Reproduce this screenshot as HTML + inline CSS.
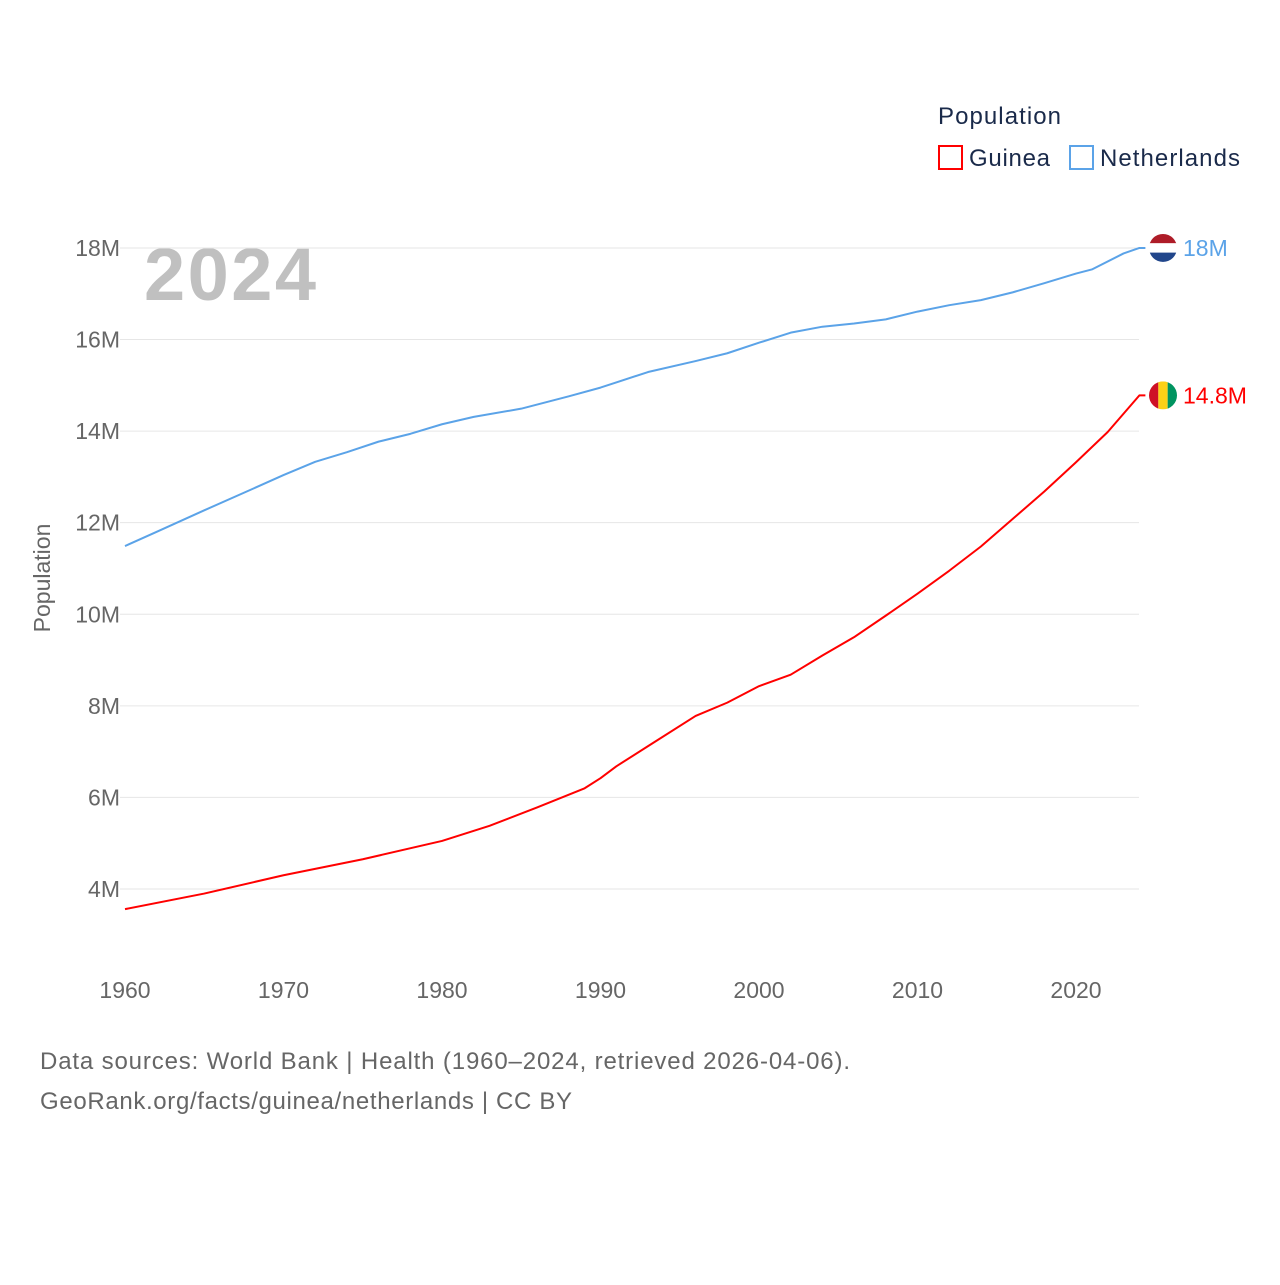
<!DOCTYPE html>
<html><head><meta charset="utf-8"><style>
body{margin:0;background:#fff;font-family:"Liberation Sans",sans-serif}
svg text{font-family:"Liberation Sans",sans-serif}
</style></head><body>
<svg id="c" width="1280" height="1280">
<text x="938" y="124" font-size="24" fill="#1a2a4a" textLength="123">Population</text>
<rect x="939" y="146" width="23" height="23" fill="none" stroke="#f00" stroke-width="2"/>
<text x="969" y="166" font-size="24" fill="#1a2a4a" textLength="81">Guinea</text>
<rect x="1070" y="146" width="23" height="23" fill="none" stroke="#5ba3e8" stroke-width="2"/>
<text x="1100" y="166" font-size="24" fill="#1a2a4a" textLength="140">Netherlands</text>
<text x="144" y="300" font-size="74" font-weight="bold" fill="#c0c0c0" textLength="172">2024</text>
<text transform="translate(50,578) rotate(-90)" text-anchor="middle" font-size="23" fill="#666">Population</text>
<g id="grid"></g><g id="lines"></g>
<text x="40" y="1069" font-size="24" fill="#666" textLength="810">Data sources: World Bank | Health (1960–2024, retrieved 2026-04-06).</text>
<text x="40" y="1109" font-size="24" fill="#666" textLength="532">GeoRank.org/facts/guinea/netherlands | CC BY</text>
</svg>
<script>
const yTicks=[4,6,8,10,12,14,16,18];
const xTicks=[1960,1970,1980,1990,2000,2010,2020];
const nlYears=[1960,1962,1965,1968,1970,1972,1974,1976,1978,1980,1982,1985,1988,1990,1993,1996,1998,2000,2002,2004,2006,2008,2010,2012,2014,2016,2018,2020,2021,2023,2024];
const nlVals=[11.49,11.8,12.27,12.73,13.04,13.33,13.54,13.77,13.94,14.15,14.31,14.49,14.76,14.95,15.29,15.53,15.70,15.93,16.15,16.28,16.35,16.44,16.61,16.75,16.86,17.03,17.23,17.44,17.53,17.88,18.0];
const gnYears=[1960,1965,1970,1975,1980,1983,1986,1989,1990,1991,1993,1996,1998,2000,2002,2004,2006,2008,2010,2012,2014,2016,2018,2020,2022,2024];
const gnVals=[3.56,3.9,4.3,4.65,5.05,5.38,5.78,6.2,6.42,6.68,7.12,7.78,8.07,8.43,8.68,9.1,9.5,9.97,10.45,10.95,11.48,12.08,12.68,13.32,13.98,14.78];
const X=y=>125+(y-1960)*15.85, Y=v=>889-(v-4)*45.79;
const ns="http://www.w3.org/2000/svg";
const g=document.getElementById('grid'), L=document.getElementById('lines');
function mk(t,a,p){const e=document.createElementNS(ns,t);for(const k in a)e.setAttribute(k,a[k]);p.appendChild(e);return e;}
yTicks.forEach(v=>{
 const l=mk('line',{x1:120,x2:1139,y1:Y(v),y2:Y(v),stroke:'#e6e6e6'},g);
 
 
 const t=mk('text',{x:120,y:Y(v)+8,'text-anchor':'end','font-size':23,fill:'#666'},g);t.textContent=v+'M';
 
 
});
xTicks.forEach(y=>{
 const t=mk('text',{x:X(y),y:998,'text-anchor':'middle','font-size':23,fill:'#666'},g);t.textContent=y;
 
 
});
function line(ys,vs,col,name){
 const d=ys.map((y,i)=>(i?'L':'M')+X(y)+','+Y(vs[i])).join('')+'L'+(X(2024)+6)+','+Y(vs[vs.length-1]);
 const p=mk('path',{d,fill:'none',stroke:col,'stroke-width':2,'stroke-linejoin':'round'},L);
 
 
}
line(nlYears,nlVals,'#5ba3e8','netherlands');
line(gnYears,gnVals,'#f00','guinea');
function flag(v,cols,vertical,name,col,label){
 const cy=Y(v),cx=1163,r=14;
 const gg=mk('g',{},L);
 
 
 const id='cl'+name;const cp=mk('clipPath',{id},gg);mk('circle',{cx,cy,r},cp);
 cols.forEach((c,i)=>{const w=2*r/3;
  if(vertical)mk('rect',{x:cx-r+i*w,y:cy-r,width:w,height:2*r,fill:c,'clip-path':'url(#'+id+')'},gg);
  else mk('rect',{x:cx-r,y:cy-r+i*w,width:2*r,height:w,fill:c,'clip-path':'url(#'+id+')'},gg);});
 const t=mk('text',{x:1183,y:cy+8,'font-size':23,fill:col},L);t.textContent=label;
 
 
}
flag(nlVals[nlVals.length-1],['#ae1c28','#fff','#21468b'],false,'netherlands','#5ba3e8','18M');
flag(gnVals[gnVals.length-1],['#ce1126','#fcd116','#009460'],true,'guinea','#f00','14.8M');
</script>
</body></html>
